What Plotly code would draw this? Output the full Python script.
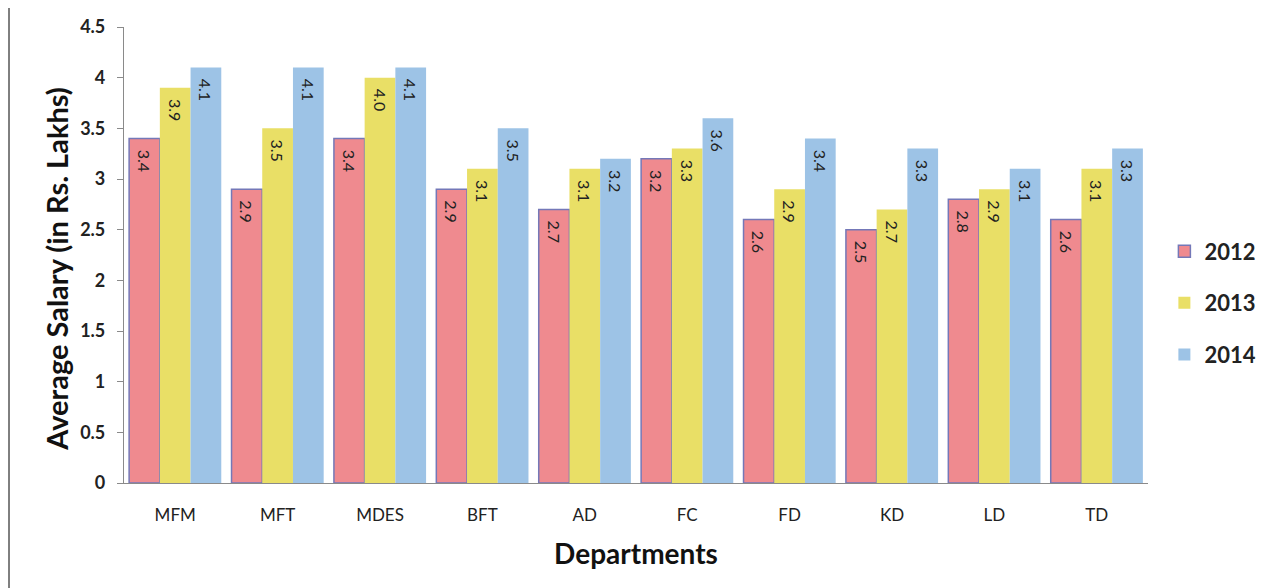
import plotly.graph_objects as go

departments = ["MFM", "MFT", "MDES", "BFT", "AD", "FC", "FD", "KD", "LD", "TD"]
years = ["2012", "2013", "2014"]
salary_2012 = [3.4, 2.9, 3.4, 2.9, 2.7, 3.2, 2.6, 2.5, 2.8, 2.6]
salary_2013 = [3.9, 3.5, 4.0, 3.1, 3.1, 3.3, 2.9, 2.7, 2.9, 3.1]
salary_2014 = [4.1, 4.1, 4.1, 3.5, 3.2, 3.6, 3.4, 3.3, 3.1, 3.3]
y_ticks = [0, 0.5, 1, 1.5, 2, 2.5, 3, 3.5, 4, 4.5]

series = [salary_2012, salary_2013, salary_2014]
colors = ["#EF8A8F", "#E9DF66", "#9DC3E6"]
lines = ["#7478B8", "#E9DF66", "#9DC3E6"]
line_w = [1.5, 0, 0]

FONT = "Lato, 'Open Sans', sans-serif"

fig = go.Figure()
for yr, vals, c, lc, lw in zip(years, series, colors, lines, line_w):
    fig.add_trace(go.Bar(
        name=yr, x=departments, y=vals, legendgroup=yr,
        marker=dict(color=c, line=dict(color=lc, width=lw)),
        texttemplate="\u00a0\u00a0%{y:.1f}", textposition="inside",
        insidetextanchor="end", textangle=90,
        textfont=dict(family=FONT, size=16, color="#222222"),
        constraintext="none",
    ))

fig.update_layout(
    width=1270, height=588,
    margin=dict(l=116, r=130, t=19, b=113),
    paper_bgcolor="white", plot_bgcolor="white",
    barmode="group", bargap=0.1, bargroupgap=0,
    font=dict(family=FONT, color="#222222"),
    legend=dict(
        x=1.016, y=0.395, xanchor="left", yanchor="middle",
        font=dict(family=FONT, size=22, color="#222222", weight="bold"),
        tracegroupgap=20, itemwidth=30,
    ),
    xaxis=dict(
        automargin=False,
        showgrid=False, showline=True, linecolor="#8a8a8a", linewidth=1.2,
        ticks="outside", ticklen=16, tickcolor="rgba(0,0,0,0)",
        tickfont=dict(family=FONT, size=17, color="#222222"),
        title=dict(text="<b>Departments</b>", font=dict(family=FONT, size=28, color="#111111"),
                   standoff=20),
    ),
    yaxis=dict(
        automargin=False,
        range=[0, 4.5], tickvals=y_ticks, ticktext=[f"{v:g}" for v in y_ticks],
        showgrid=False, showline=True, linecolor="#8a8a8a", linewidth=1.2,
        ticks="outside", ticklen=6, tickcolor="#8a8a8a",
        ticklabelstandoff=8,
        tickfont=dict(family=FONT, size=18, color="#222222", weight="bold"),
        zeroline=False,
    ),
    annotations=[
        dict(text="<b>Average Salary (in Rs. Lakhs)</b>", textangle=-90,
             xref="paper", yref="paper", x=-0.0654, y=0.47,
             xanchor="center", yanchor="middle", showarrow=False,
             font=dict(family=FONT, size=29, color="#111111")),
    ],
    shapes=[
        dict(type="line", xref="paper", yref="paper", x0=-0.1123, x1=-0.1123,
             y0=-0.3, y1=1.1, line=dict(color="#555555", width=1.5)),
    ],
)

fig.write_html("out.html")
